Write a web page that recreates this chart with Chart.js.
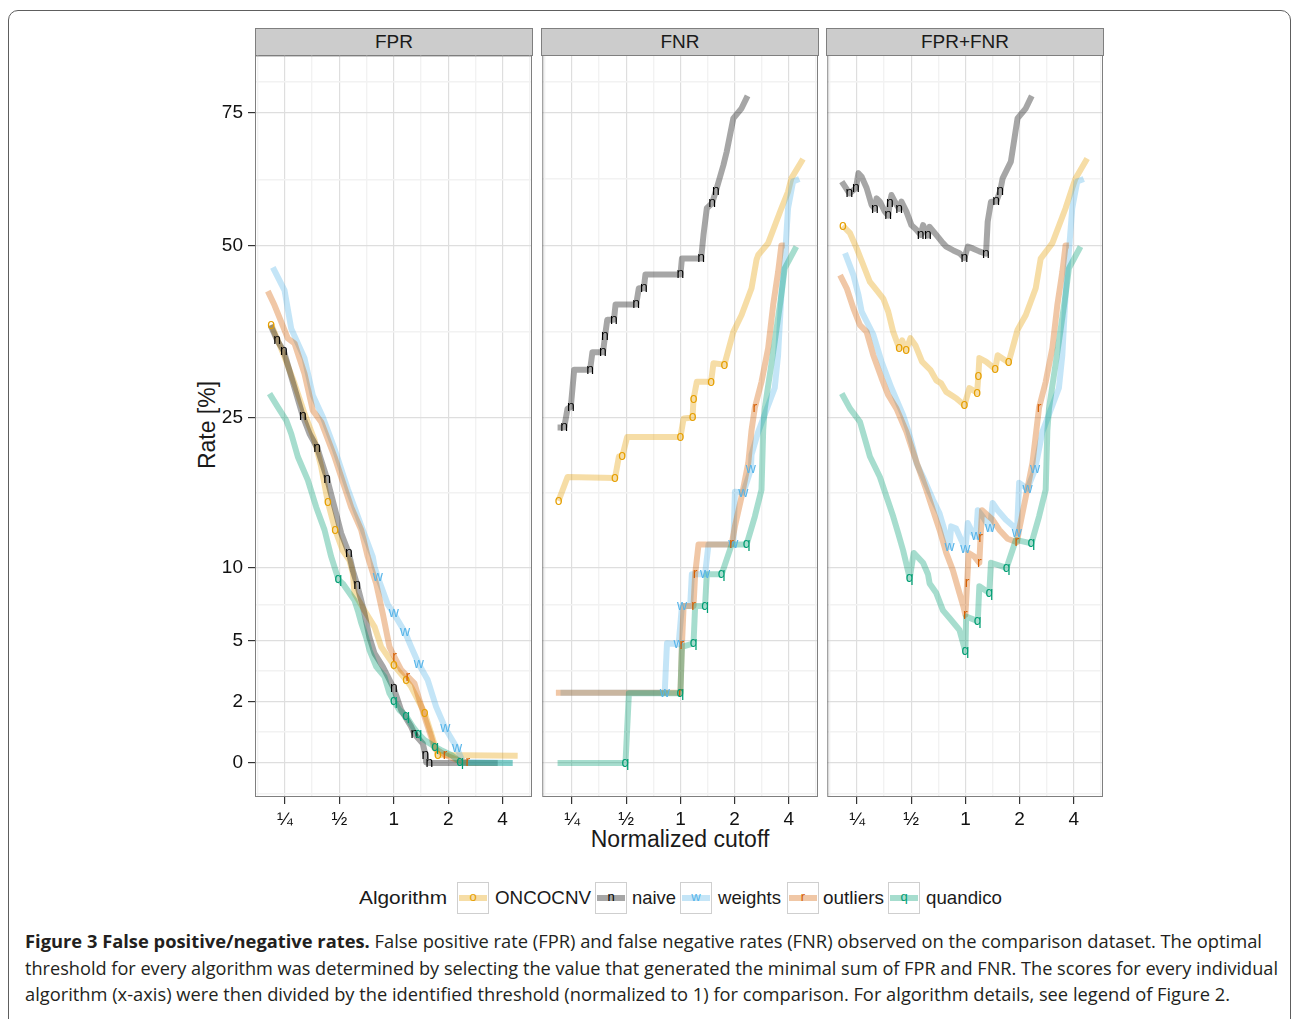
<!DOCTYPE html>
<html>
<head>
<meta charset="utf-8">
<script src="https://cdn.jsdelivr.net/npm/chart.js@4.4.1/dist/chart.umd.min.js"></script>
<style>
  body { margin: 0; width: 1293px; height: 1019px; position: relative; overflow: hidden; background: #fff;
         font-family: "Liberation Sans", Arial, sans-serif; color: #1a1a1a; }
  .abs { position: absolute; white-space: nowrap; }
  #frame { left: 8px; top: 10px; width: 1283px; height: 1030px; border: 1px solid #5e5e5e; border-radius: 10px; box-sizing: border-box; }
  .strip { top: 28px; height: 28px; width: 278px; background: #cccccc; border: 1px solid #7f7f7f; box-sizing: border-box;
           text-align: center; font-size: 19px; line-height: 26px; }
  canvas { position: absolute; top: 39px; }
  .title { font-size: 23px; line-height: 26px; }
  .fit { transform-origin: 0 50%; }
  .leg { top: 886px; font-size: 19px; line-height: 24px; }
  .key { top: 882px; width: 32px; height: 32px; border: 1.5px solid #cfcfcf; box-sizing: border-box; background: #fff; }
  .key .bar { position: absolute; left: 1px; right: 1px; top: 12px; height: 6px; }
  .key .ch { position: absolute; left: 0; right: 0; top: 6px; text-align: center; font-size: 13px; line-height: 16px; }
  .cap { left: 25px; font-family: "Open Sans", sans-serif; font-size: 18.5px; line-height: 26px; color: #231f20; }
  .cap b { font-weight: 700; }
</style>
</head>
<body>
<div id="frame" class="abs"></div>

<div class="abs strip" style="left:255px">FPR</div>
<div class="abs strip" style="left:541px">FNR</div>
<div class="abs strip" style="left:826px">FPR+FNR</div>

<div class="abs title" style="left:207px; top:425px; transform: translate(-50%, -50%) rotate(-90deg);">Rate [%]</div>
<div class="abs title" style="left:680px; top:839px; transform: translate(-50%, -50%);">Normalized cutoff</div>

<div id="legend"></div>

<div class="abs cap fit" data-w="1237" style="top:928px"><b>Figure 3 False positive/negative rates.</b> False positive rate (FPR) and false negative rates (FNR) observed on the comparison dataset. The optimal</div>
<div class="abs cap fit" data-w="1253" style="top:955px">threshold for every algorithm was determined by selecting the value that generated the minimal sum of FPR and FNR. The scores for every individual</div>
<div class="abs cap fit" data-w="1205" style="top:981px">algorithm (x-axis) were then divided by the identified threshold (normalized to 1) for comparison. For algorithm details, see legend of Figure 2.</div>

<script>
// Points are [log2(normalized cutoff), rate in %, letter flag]; flag 1 = the algorithm letter sits on that point
const algorithms = ['ONCOCNV', 'naive', 'weights', 'outliers', 'quandico'];
const letters = ['o', 'n', 'w', 'r', 'q'];
const panelNames = ['FPR', 'FNR', 'FPR+FNR'];
const xTickValues = [-2, -1, 0, 1, 2];
const xTickLabels = ['\u00BC', '\u00BD', '1', '2', '4'];
const yTickValues = [0, 2, 5, 10, 25, 50, 75];

// FPR
const fprOncocnv = [[-2.252, 37.5, 1], [-2.007, 32.9], [-1.824, 29.3], [-1.640, 25.5], [-1.458, 22.4], [-1.333, 19.4],
  [-1.212, 15.8, 1], [-1.076, 13.2, 1], [-0.937, 11.4], [-0.814, 10.6], [-0.753, 9.6], [-0.722, 8.1], [-0.538, 6.9],
  [-0.354, 5.85], [-0.231, 4.66], [0, 3.68, 1], [0.228, 2.94, 1], [0.320, 2.63], [0.565, 1.55, 1], [0.687, 0.83],
  [0.809, 0.20, 1], [2.277, 0.18]];
const fprNaive = [[-2.264, 37.4], [-2.141, 35.2, 1], [-2.020, 33.7, 1], [-1.884, 30.2], [-1.671, 25.2, 1], [-1.548, 23.1],
  [-1.407, 21.5, 1], [-1.333, 20.1], [-1.223, 18.1, 1], [-1.089, 15.3], [-0.966, 12.9], [-0.826, 11.2, 1], [-0.753, 9.8],
  [-0.672, 8.7, 1], [-0.599, 7.6], [-0.538, 6.7], [-0.446, 5.2], [-0.354, 4.3], [-0.202, 3.6], [0, 2.56, 1], [0.136, 1.65],
  [0.320, 1.05], [0.380, 0.81, 1], [0.533, 0.52], [0.582, 0.20, 1], [0.595, 0.01], [0.656, 0, 1], [1.910, 0]];
const fprWeights = [[-2.222, 46.4], [-2.007, 42.7], [-1.884, 36.9], [-1.640, 32.7], [-1.488, 27.8], [-1.304, 25.1],
  [-1.089, 21.4], [-0.845, 17.1], [-0.599, 13.6], [-0.386, 10.9], [-0.354, 10.1], [-0.294, 9.3, 1], [-0.110, 7.3],
  [0, 6.7, 1], [0.209, 5.5, 1], [0.320, 4.66], [0.459, 3.73, 1], [0.624, 2.94], [0.779, 1.78], [0.949, 0.99, 1],
  [1.164, 0.38, 1], [1.267, 0.03], [2.185, 0]];
const fprOutliers = [[-2.314, 42.6], [-2.191, 40.4], [-2.068, 37.9], [-1.947, 35.5], [-1.824, 34.8], [-1.640, 30.6],
  [-1.488, 25.9], [-1.333, 24.5], [-1.089, 20.5], [-0.905, 17.3], [-0.782, 15.3], [-0.599, 13.2], [-0.478, 10.9],
  [-0.323, 8.8], [-0.202, 6.7], [-0.079, 4.66], [0.013, 4.1, 1], [0.136, 3.43], [0.257, 3.1, 1], [0.380, 2.79],
  [0.472, 2.05], [0.595, 1.22], [0.687, 0.72], [0.747, 0.38], [0.944, 0.20, 1], [1.175, 0.07], [1.359, 0.01, 1]];
const fprQuandico = [[-2.283, 28.0], [-2.130, 26.3], [-1.976, 24.7], [-1.884, 23.1], [-1.763, 20.5], [-1.579, 18.0],
  [-1.425, 15.3], [-1.273, 13.2], [-1.150, 10.9], [-1.016, 9.1, 1], [-0.937, 8.8], [-0.722, 7.6], [-0.661, 6.9],
  [-0.599, 6.1], [-0.507, 5.2], [-0.446, 4.48], [-0.323, 3.6], [-0.171, 3.1], [-0.079, 2.34], [0, 2.02, 1], [0.105, 1.65],
  [0.228, 1.43, 1], [0.349, 1.05], [0.454, 0.81, 1], [0.564, 0.62], [0.760, 0.42, 1], [0.871, 0.33], [1.054, 0.20],
  [1.219, 0.03, 1], [1.298, 0], [2.185, 0]];

// FNR
const fnrOncocnv = [[-2.250, 15.9, 1], [-2.084, 18.3], [-1.208, 18.2, 1], [-1.135, 20.5], [-1.074, 20.5, 1], [-0.983, 22.7],
  [0, 22.7, 1], [0.059, 24.9], [0.224, 25.0, 1], [0.242, 27.3, 1], [0.303, 29.5], [0.566, 29.5, 1], [0.610, 32.0],
  [0.812, 31.8, 1], [0.977, 36.4], [1.129, 38.9], [1.313, 43.0], [1.405, 47.6], [1.436, 48.4], [1.620, 50.4],
  [1.864, 56.5], [1.987, 59.5], [2.048, 62.0], [2.263, 65.7]];
const fnrNaive = [[-2.268, 23.8], [-2.145, 23.8, 1], [-2.084, 26.1], [-2.024, 26.3, 1], [-1.961, 31.1], [-1.668, 31.1, 1],
  [-1.625, 33.5], [-1.429, 33.5, 1], [-1.392, 35.8, 1], [-1.350, 38.2], [-1.227, 38.2, 1], [-1.197, 40.5],
  [-0.817, 40.5, 1], [-0.768, 43.0], [-0.676, 43.0, 1], [-0.646, 45.2], [0, 45.2, 1], [0.028, 47.8], [0.382, 47.8, 1],
  [0.426, 51.8], [0.487, 56.5], [0.584, 57.4, 1], [0.657, 59.7, 1], [0.793, 64.5], [0.854, 67.1], [0.977, 73.8],
  [1.129, 75.9], [1.240, 78.5]];
const fnrWeights = [[-2.213, 2.36], [-0.290, 2.36, 1], [-0.248, 4.86], [-0.033, 4.8, 1], [0.028, 7.2, 1], [0.180, 7.2],
  [0.211, 9.5], [0.455, 9.5, 1], [0.518, 11.9], [0.977, 11.9, 1], [1.006, 16.8], [1.161, 16.7, 1], [1.300, 19.1, 1],
  [1.313, 20.7], [1.436, 23.3], [1.620, 26.5], [1.741, 28.7], [1.803, 33.1], [1.864, 42.0], [1.925, 47.3], [1.987, 56.5],
  [2.079, 61.4], [2.195, 61.9]];
const fnrOutliers = [[-2.299, 2.36], [0, 2.36, 1], [0.028, 4.76, 1], [0.059, 7.2], [0.242, 7.2, 1], [0.272, 9.5, 1],
  [0.334, 11.9], [0.946, 11.9, 1], [1.006, 13.5], [1.129, 16.3], [1.253, 19.8], [1.313, 23.5], [1.374, 26.2, 1],
  [1.497, 29.5], [1.620, 34.1], [1.712, 40.4], [1.803, 45.6], [1.864, 50.0], [1.925, 50.0]];
const fnrQuandico = [[-2.268, 0], [-1.014, 0, 1], [-0.951, 2.34], [0, 2.34, 1], [0.028, 4.66], [0.242, 4.86, 1],
  [0.272, 7.2], [0.455, 7.2, 1], [0.487, 9.5], [0.762, 9.5, 1], [0.946, 11.9], [1.221, 11.9, 1], [1.374, 14.4],
  [1.497, 17.0], [1.528, 23.5], [1.557, 26.1], [1.741, 35.0], [1.864, 42.0], [1.925, 46.2], [2.140, 49.8]];

// FPR+FNR
const sumOncocnv = [[-2.264, 53.4, 1], [-2.130, 52.1], [-2.007, 49.5], [-1.884, 46.7], [-1.763, 44.0], [-1.640, 42.7],
  [-1.517, 41.4], [-1.425, 39.4], [-1.333, 36.4], [-1.242, 34.5], [-1.223, 34.1, 1], [-1.168, 35.2], [-1.095, 33.8, 1],
  [-1.016, 35.5], [-0.924, 34.5], [-0.801, 32.2], [-0.648, 31.1], [-0.538, 29.7], [-0.446, 29.3], [-0.354, 28.2],
  [-0.171, 27.4], [-0.018, 26.5, 1], [0.073, 28.7], [0.215, 28.1, 1], [0.239, 30.2, 1], [0.257, 32.7], [0.380, 32.2],
  [0.551, 31.2, 1], [0.595, 33.1], [0.797, 32.1, 1], [0.962, 36.7], [1.115, 38.9], [1.298, 43.0], [1.390, 47.8],
  [1.605, 50.4], [1.849, 56.5], [1.972, 60.2], [2.033, 62.0], [2.248, 65.8]];
const sumNaive = [[-2.283, 61.4], [-2.141, 59.2, 1], [-2.020, 60.2, 1], [-1.976, 63.0], [-1.916, 62.3], [-1.824, 60.2],
  [-1.732, 57.1], [-1.671, 56.4, 1], [-1.640, 58.3], [-1.579, 57.7], [-1.488, 55.9], [-1.425, 55.2, 1], [-1.396, 57.4, 1],
  [-1.365, 58.9], [-1.304, 57.7], [-1.223, 56.4, 1], [-1.181, 57.7], [-1.089, 55.9], [-0.997, 53.5], [-0.905, 52.7],
  [-0.826, 51.8, 1], [-0.782, 53.5], [-0.691, 51.7, 1], [-0.661, 53.2], [-0.538, 51.8], [-0.415, 50.4], [-0.354, 49.8],
  [-0.231, 49.2], [-0.110, 48.7], [-0.018, 47.9, 1], [0.044, 49.8], [0.136, 49.5], [0.257, 49.0], [0.380, 48.6, 1],
  [0.411, 54.1], [0.472, 57.7], [0.569, 57.7, 1], [0.643, 59.7, 1], [0.687, 62.0], [0.839, 65.2], [0.962, 73.8],
  [1.115, 75.9], [1.225, 78.5]];
const sumWeights = [[-2.222, 48.7], [-2.068, 45.1], [-1.976, 42.0], [-1.916, 39.4], [-1.701, 36.0], [-1.548, 32.2],
  [-1.365, 28.7], [-1.150, 25.3], [-1.058, 23.5], [-0.966, 21.4], [-0.905, 19.8], [-0.782, 18.3], [-0.599, 16.0],
  [-0.478, 14.7], [-0.294, 11.7, 1], [-0.263, 13.5], [-0.171, 13.3], [0, 11.5, 1], [0.044, 13.8], [0.136, 12.9],
  [0.197, 12.6, 1], [0.228, 15.0], [0.320, 14.4], [0.454, 13.3, 1], [0.503, 15.7], [0.595, 15.0], [0.747, 14.1],
  [0.931, 13.3], [0.950, 12.9, 1], [0.992, 17.7], [1.146, 17.1, 1], [1.286, 19.1, 1], [1.421, 23.3], [1.605, 26.5],
  [1.726, 28.7], [1.789, 33.1], [1.849, 42.0], [1.972, 56.5], [2.064, 61.4], [2.185, 61.9]];
const sumOutliers = [[-2.314, 45.1], [-2.191, 43.0], [-2.068, 39.9], [-1.947, 37.4], [-1.824, 36.4], [-1.701, 33.1],
  [-1.548, 30.0], [-1.425, 27.8], [-1.273, 26.1], [-1.089, 23.3], [-0.966, 21.0], [-0.874, 19.4], [-0.722, 17.0],
  [-0.599, 15.0], [-0.478, 13.2], [-0.354, 11.2], [-0.231, 9.8], [-0.110, 8.1], [-0.033, 7.1], [0, 6.6, 1],
  [0.031, 8.8, 1], [0.059, 11.2], [0.165, 10.9], [0.257, 10.4, 1], [0.279, 12.5, 1], [0.307, 15.0], [0.503, 14.1],
  [0.624, 13.2], [0.779, 12.4], [0.950, 12.1, 1], [0.992, 13.2], [1.115, 16.3], [1.238, 19.8], [1.359, 26.2, 1],
  [1.482, 29.5], [1.605, 34.1], [1.697, 40.4], [1.789, 45.6], [1.849, 50.0], [1.910, 50.0]];
const sumQuandico = [[-2.283, 28.0], [-2.130, 26.1], [-1.947, 24.5], [-1.824, 21.8], [-1.763, 20.5], [-1.579, 18.3],
  [-1.456, 16.3], [-1.333, 14.4], [-1.242, 12.9], [-1.150, 11.4], [-1.028, 9.2, 1], [-0.955, 11.2], [-0.782, 10.4],
  [-0.691, 9.5], [-0.661, 8.8], [-0.538, 8.1], [-0.415, 6.9], [-0.294, 6.4], [-0.110, 5.65], [0, 4.39, 1], [0.013, 6.5],
  [0.228, 6.2, 1], [0.257, 8.6], [0.441, 8.1, 1], [0.472, 10.4], [0.760, 10.0, 1], [0.931, 12.3], [1.219, 12.0, 1],
  [1.359, 14.4], [1.482, 17.0], [1.513, 23.5], [1.543, 26.1], [1.726, 35.0], [1.849, 42.0], [1.910, 46.2], [2.125, 49.8]];

const panelSeries = [
  [fprOncocnv, fprNaive, fprWeights, fprOutliers, fprQuandico],
  [fnrOncocnv, fnrNaive, fnrWeights, fnrOutliers, fnrQuandico],
  [sumOncocnv, sumNaive, sumWeights, sumOutliers, sumQuandico],
];

// styling
const inkColours = ['#E69F00', '#000000', '#56B4E9', '#D55E00', '#009E73'];
const lineAlpha = 0.35;
const panelLefts = [255, 541, 826];
const panelWidth = 277;
const fontFamily = '"Liberation Sans", Arial, sans-serif';

function fade(hex, a) {
  const n = parseInt(hex.slice(1), 16);
  return `rgba(${n >> 16}, ${(n >> 8) & 255}, ${n & 255}, ${a})`;
}

// rate axis uses a sqrt(x + 1) transform
const rateAxis = (r) => Math.sqrt(r + 1) - 1;
const xRange = [-2.55, 2.54];
const yRange = [-0.4035, 8.4016];

// major breaks plus ggplot-style minor breaks halfway between them
function buildGrid(pos, labels, min, max) {
  const ticks = pos.map((v, i) => ({ value: v, text: labels[i], minor: false }));
  const step = pos[1] - pos[0];
  const ext = [pos[0] - step, ...pos, pos[pos.length - 1] + step];
  for (let i = 0; i < ext.length - 1; i++) {
    const m = (ext[i] + ext[i + 1]) / 2;
    if (m > min && m < max) ticks.push({ value: m, text: '', minor: true });
  }
  return ticks.sort((a, b) => a.value - b.value);
}

const xGrid = buildGrid(xTickValues, xTickLabels, xRange[0], xRange[1]);
const yGrid = buildGrid(yTickValues.map(rateAxis), yTickValues.map(String), yRange[0], yRange[1]);

const gridColour = (ctx) => (ctx.tick && ctx.tick.minor ? '#f2f2f2' : '#dedede');
const gridWidth = (ctx) => (ctx.tick && ctx.tick.minor ? 1.4 : 1.2);
const tickColour = (ctx) => (ctx.tick && ctx.tick.minor ? 'rgba(0,0,0,0)' : '#333333');

// algorithm letters on top of the lines
const letterPlugin = {
  id: 'letters',
  afterDatasetsDraw(chart) {
    const { ctx, chartArea: a } = chart;
    ctx.save();
    ctx.beginPath();
    ctx.rect(a.left, a.top, a.right - a.left, a.bottom - a.top);
    ctx.clip();
    ctx.font = `14px ${fontFamily}`;
    ctx.textAlign = 'center';
    ctx.textBaseline = 'middle';
    chart.data.datasets.forEach((ds, i) => {
      const meta = chart.getDatasetMeta(i);
      ctx.fillStyle = ds.ink;
      ds.marks.forEach((j) => ctx.fillText(ds.letter, meta.data[j].x, meta.data[j].y));
    });
    ctx.restore();
  },
};

// grey panel border
const borderPlugin = {
  id: 'panelBorder',
  afterDraw(chart) {
    const { ctx, chartArea: a } = chart;
    ctx.save();
    ctx.strokeStyle = '#7f7f7f';
    ctx.lineWidth = 1;
    ctx.strokeRect(a.left + 0.5, a.top + 0.5, a.right - a.left - 1, a.bottom - a.top - 1);
    ctx.restore();
  },
};

panelSeries.forEach((seriesSet, p) => {
  const axisWidth = p === 0 ? 85 : 0;
  const canvas = document.createElement('canvas');
  canvas.width = axisWidth + panelWidth + 6;
  canvas.height = 811;
  canvas.style.left = panelLefts[p] - axisWidth + 'px';
  document.body.appendChild(canvas);

  new Chart(canvas, {
    type: 'line',
    data: {
      datasets: seriesSet.map((pts, i) => ({
        label: algorithms[i],
        data: pts.map((pt) => ({ x: pt[0], y: rateAxis(pt[1]) })),
        marks: pts.map((pt, j) => (pt[2] ? j : -1)).filter((j) => j >= 0),
        letter: letters[i],
        ink: inkColours[i],
        borderColor: fade(inkColours[i], lineAlpha),
        borderWidth: 6,
        borderJoinStyle: 'round',
        pointRadius: 0,
        tension: 0,
        order: algorithms.length - i,
      })),
    },
    options: {
      responsive: false,
      animation: false,
      devicePixelRatio: 1,
      layout: { padding: { top: 16, right: 6, bottom: 0, left: 0 } },
      plugins: { legend: { display: false }, tooltip: { enabled: false } },
      scales: {
        x: {
          type: 'linear',
          min: xRange[0],
          max: xRange[1],
          afterBuildTicks: (s) => { s.ticks = xGrid.map((t) => ({ ...t })); },
          afterFit: (s) => { s.height = 53; },
          border: { display: false },
          grid: { color: gridColour, lineWidth: gridWidth, tickColor: tickColour, tickLength: 7, tickWidth: 1.2 },
          ticks: {
            autoSkip: false, maxRotation: 0, minRotation: 0, padding: 4, color: '#111',
            font: { family: fontFamily, size: 19 },
            callback: (v, i, ticks) => ticks[i].text,
          },
        },
        y: {
          type: 'linear',
          min: yRange[0],
          max: yRange[1],
          afterBuildTicks: (s) => { s.ticks = yGrid.map((t) => ({ ...t })); },
          afterFit: (s) => { s.width = axisWidth; },
          border: { display: false },
          grid: { color: gridColour, lineWidth: gridWidth, tickColor: tickColour, tickLength: 7, tickWidth: 1.2, drawTicks: p === 0 },
          ticks: {
            display: p === 0, autoSkip: false, padding: 5, color: '#111',
            font: { family: fontFamily, size: 19 },
            callback: (v, i, ticks) => ticks[i].text,
          },
        },
      },
    },
    plugins: [letterPlugin, borderPlugin],
  });
});

// legend
const legend = document.getElementById('legend');
const keyLefts = [457, 595, 680, 787, 888];
const labelLefts = [495, 632, 718, 823, 926];
const labelWidths = [96, 44, 63, 61, 76];
legend.innerHTML = '<div class="abs leg fit" data-w="88" style="left:359px">Algorithm</div>' +
  algorithms.map((name, i) =>
    `<div class="abs key" style="left:${keyLefts[i]}px">` +
      `<div class="bar" style="background:${fade(inkColours[i], lineAlpha)}"></div>` +
      `<div class="ch" style="color:${inkColours[i]}">${letters[i]}</div></div>` +
    `<div class="abs leg fit" data-w="${labelWidths[i]}" style="left:${labelLefts[i]}px">${name}</div>`
  ).join('');

// squeeze or stretch text blocks to their set widths
function fitAll() {
  document.querySelectorAll('.fit').forEach((el) => {
    el.style.transform = 'none';
    const w = el.getBoundingClientRect().width;
    el.style.transform = `scaleX(${el.dataset.w / w})`;
  });
}
fitAll();
document.fonts.ready.then(fitAll);
</script>
</body>
</html>
